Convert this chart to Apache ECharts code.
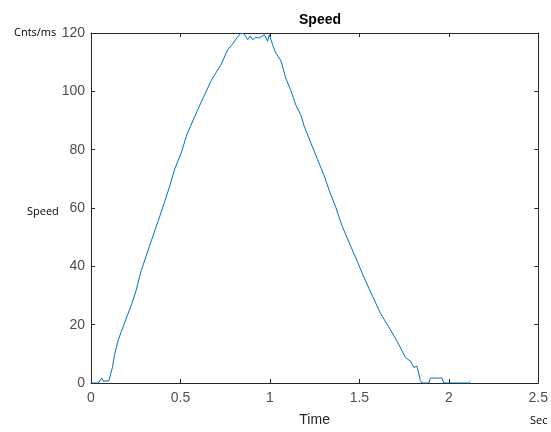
<!DOCTYPE html>
<html>
<head>
<meta charset="utf-8">
<script src="https://cdn.jsdelivr.net/npm/echarts@6/dist/echarts.min.js"></script>
<style>
  html, body { margin: 0; padding: 0; background: #fff; }
  #main { width: 551px; height: 432px; }
</style>
</head>
<body>
<div id="main"></div>
<script>
// time in seconds, speed in Cnts/ms
const time = [0, 0.04, 0.05, 0.06, 0.07, 0.08, 0.10, 0.12, 0.132, 0.15, 0.169, 0.187, 0.205, 0.225, 0.252, 0.28, 0.308, 0.345, 0.377, 0.414, 0.44, 0.468, 0.505, 0.533, 0.556, 0.579, 0.625, 0.672, 0.70, 0.728, 0.765, 0.789, 0.815, 0.839, 0.857, 0.876, 0.89, 0.904, 0.92, 0.941, 0.969, 0.987, 0.997, 1.015, 1.03, 1.062, 1.09, 1.117, 1.145, 1.173, 1.192, 1.229, 1.266, 1.303, 1.331, 1.368, 1.405, 1.452, 1.488, 1.526, 1.572, 1.619, 1.674, 1.711, 1.758, 1.786, 1.804, 1.822, 1.841, 1.85, 1.888, 1.897, 1.962, 1.971, 2.11, 2.115, 2.12];
const speed = [0, 0, 0.5, 1.7, 0.6, 0.5, 0.8, 5.4, 9.8, 14.3, 17.6, 20.4, 23.5, 26.6, 31.7, 38.4, 43.5, 50.2, 55.8, 62.6, 67.5, 73.4, 79, 84.6, 88, 91.3, 97.5, 103.7, 106.5, 109.3, 114.4, 116, 118.3, 120, 119.6, 117.7, 119, 117.7, 118.5, 118.3, 119.4, 117.2, 119.4, 116, 113.5, 110.4, 104.3, 100.3, 95.3, 91.9, 88, 82.3, 76.7, 71.1, 66.1, 60.3, 53.6, 46.8, 41.8, 36.2, 30, 23.8, 18.2, 14.3, 8.7, 7.5, 5.3, 5.8, 0.8, 0, 0, 1.7, 1.7, 0, 0, 0.6, 0.6];

const axisColor = "#262626";
const labelColor = "#4d4d4d";

const chart = echarts.init(document.getElementById("main"));

const xBase = {
  type: "value",
  min: 0,
  max: 2.5,
  interval: 0.5,
  splitLine: { show: false },
  axisLine: { show: true, onZero: false, lineStyle: { color: axisColor, width: 1 } },
  axisTick: { show: true, inside: true, length: 4, lineStyle: { color: axisColor } },
};
const yBase = {
  type: "value",
  min: 0,
  max: 120,
  interval: 20,
  splitLine: { show: false },
  axisLine: { show: true, onZero: false, lineStyle: { color: axisColor, width: 1 } },
  axisTick: { show: true, inside: true, length: 4, lineStyle: { color: axisColor } },
};

chart.setOption({
  animation: false,
  backgroundColor: "#fff",
  title: {
    text: "Speed",
    left: 315,
    textAlign: "center",
    top: 8,
    textStyle: { fontFamily: "Liberation Sans", fontSize: 14, fontWeight: "bold", color: "#000" },
  },
  grid: { left: 91, right: 11, top: 33, bottom: 42 },
  xAxis: [
    Object.assign({}, xBase, {
      position: "bottom",
      name: "Time",
      nameLocation: "middle",
      nameGap: 30,
      nameTextStyle: { fontFamily: "Liberation Sans", fontSize: 14, color: axisColor },
      axisLabel: { fontFamily: "Liberation Sans", fontSize: 14, color: labelColor, margin: 8 },
    }),
    Object.assign({}, xBase, { position: "top", axisLabel: { show: false } }),
  ],
  yAxis: [
    Object.assign({}, yBase, {
      position: "left",
      axisLabel: { fontFamily: "Liberation Sans", fontSize: 14, color: labelColor, margin: 6 },
    }),
    Object.assign({}, yBase, { position: "right", axisLabel: { show: false } }),
  ],
  graphic: [
    { type: "text", left: 14, top: 27, style: { text: "Cnts/ms", fontFamily: "Open Sans", fontSize: 11, fill: "#000" } },
    { type: "text", left: 27, top: 206, style: { text: "Speed", fontFamily: "Open Sans", fontSize: 11, fill: "#000" } },
    { type: "text", left: 530, top: 415, style: { text: "Sec", fontFamily: "Open Sans", fontSize: 11, fill: "#000" } },
  ],
  series: [
    {
      type: "line",
      data: time.map((t, i) => [t, speed[i]]),
      showSymbol: false,
      xAxisIndex: 0,
      yAxisIndex: 0,
      lineStyle: { color: "#0072BD", width: 1 },
      itemStyle: { color: "#0072BD" },
    },
  ],
});
</script>
</body>
</html>
